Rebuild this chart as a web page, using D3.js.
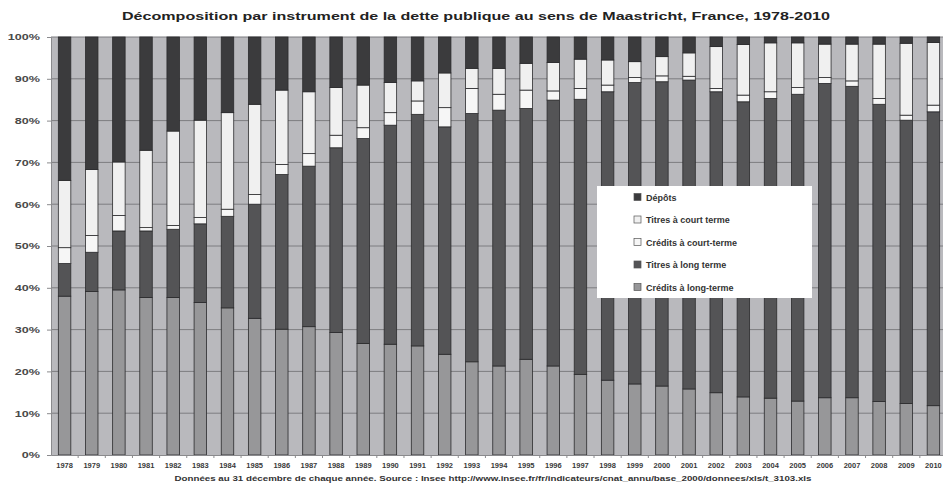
<!DOCTYPE html>
<html>
<head>
<meta charset="utf-8">
<script src="https://cdn.jsdelivr.net/npm/d3@7"></script>
<style>
  html, body { margin: 0; padding: 0; background: #fff; }
  svg { display: block; font-family: "Liberation Sans", Arial, sans-serif; }
</style>
</head>
<body>
<svg id="chart" width="943" height="489"></svg>
<script>
// Years (31 December of each year)
const years = ["1978","1979","1980","1981","1982","1983","1984","1985","1986","1987","1988",
  "1989","1990","1991","1992","1993","1994","1995","1996","1997","1998","1999","2000",
  "2001","2002","2003","2004","2005","2006","2007","2008","2009","2010"];

// Shares of total Maastricht debt, in percent
const creditsLongTerme = [38.0,39.1,39.5,37.7,37.7,36.5,35.2,32.7,30.1,30.7,29.3,26.7,26.5,26.1,24.1,22.3,21.3,22.9,21.3,19.3,17.9,17.0,16.5,15.8,14.9,13.9,13.6,12.9,13.7,13.7,12.8,12.3,11.8];
const titresLongTerme  = [7.8,9.4,14.1,15.9,16.3,18.8,21.9,27.3,37.0,38.4,44.2,49.0,52.4,55.4,54.4,59.4,61.2,60.0,63.6,65.8,69.0,72.1,72.8,73.9,72.0,70.6,71.7,73.4,75.2,74.5,71.1,67.8,70.3];
const creditsCourtTerme= [3.8,4.0,3.7,0.8,0.9,1.5,1.7,2.3,2.4,3.0,3.0,2.6,3.0,3.2,4.6,6.0,3.8,4.4,2.2,2.6,1.6,1.2,1.4,0.9,0.8,1.6,1.6,1.6,1.4,1.3,1.4,1.2,1.6];
const titresCourtTerme = [16.1,15.8,12.8,18.5,22.6,23.3,23.1,21.6,17.8,14.8,11.4,10.2,7.2,4.8,8.3,4.8,6.2,6.4,6.8,7.0,6.0,3.8,4.6,5.6,10.0,12.1,11.7,10.7,8.0,8.8,13.0,17.2,15.0];
const depots           = [34.3,31.7,29.9,27.1,22.5,19.9,18.1,16.1,12.7,13.1,12.1,11.5,10.9,10.5,8.6,7.5,7.5,6.3,6.1,5.3,5.5,5.9,4.7,3.8,2.3,1.8,1.4,1.4,1.7,1.7,1.7,1.5,1.3];

const seriesNames = ["Crédits à long-terme","Titres à long terme","Crédits à court-terme","Titres à court terme","Dépôts"];
const yTicks = [0,10,20,30,40,50,60,70,80,90,100];

const title = "Décomposition par instrument de la dette publique au sens de Maastricht, France, 1978-2010";
const source = "Données au 31 décembre de chaque année. Source : Insee http://www.insee.fr/fr/indicateurs/cnat_annu/base_2000/donnees/xls/t_3103.xls";

const colors = {
  "Crédits à long-terme": "#979799",
  "Titres à long terme": "#545456",
  "Crédits à court-terme": "#f6f6f6",
  "Titres à court terme": "#f0f0f0",
  "Dépôts": "#3b3b3d"
};

const rows = years.map((y, i) => ({
  year: y,
  "Crédits à long-terme": creditsLongTerme[i],
  "Titres à long terme": titresLongTerme[i],
  "Crédits à court-terme": creditsCourtTerme[i],
  "Titres à court terme": titresCourtTerme[i],
  "Dépôts": depots[i]
}));

const svg = d3.select("#chart");
const m = { left: 51, right: -4, top: 37, bottom: 34 };
const W = 943, H = 489;

const x = d3.scaleBand().domain(years).range([m.left, W - m.right]).paddingInner(0.54).paddingOuter(0.27);
const y = d3.scaleLinear().domain([0, 100]).range([H - m.bottom, m.top]);

// stretch a text element horizontally to a target width
function fitWidth(sel, factor) {
  sel.each(function () {
    const w = this.getComputedTextLength();
    d3.select(this).attr("textLength", w * factor).attr("lengthAdjust", "spacingAndGlyphs");
  });
}

// plot background
svg.append("rect")
  .attr("x", m.left).attr("y", m.top)
  .attr("width", W - m.right - m.left).attr("height", y(0) - m.top)
  .attr("fill", "#b9b9bd");

// horizontal gridlines
svg.append("g").selectAll("line").data(yTicks.filter(t => t > 0)).join("line")
  .attr("x1", m.left).attr("x2", W - m.right)
  .attr("y1", d => y(d)).attr("y2", d => y(d))
  .attr("stroke", "#7d7d80").attr("stroke-width", 1);

// stacked bars
const stack = d3.stack().keys(seriesNames);
const layers = stack(rows);

svg.append("g").selectAll("g").data(layers).join("g")
  .attr("fill", d => colors[d.key])
  .selectAll("rect").data(d => d).join("rect")
    .attr("x", d => x(d.data.year))
    .attr("width", x.bandwidth())
    .attr("y", d => y(d[1]))
    .attr("height", d => y(d[0]) - y(d[1]))
    .attr("stroke", "#2b2b2d").attr("stroke-width", 0.8);

// y axis
const yAxis = svg.append("g")
  .attr("transform", `translate(${m.left},0)`)
  .call(d3.axisLeft(y).tickValues(yTicks).tickFormat(d => d + "%").tickSize(4).tickPadding(7));
yAxis.select(".domain").attr("stroke", "#8a8a8d");
yAxis.selectAll(".tick line").attr("stroke", "#8a8a8d");
yAxis.selectAll("text")
  .attr("font-family", "Liberation Sans, Arial, sans-serif")
  .attr("font-size", 9).attr("font-weight", "bold").attr("fill", "#4a4a4a")
  .call(fitWidth, 1.4);

// x axis
const xAxis = svg.append("g")
  .attr("transform", `translate(0,${y(0)})`)
  .call(d3.axisBottom(x).tickSize(0).tickPadding(8));
xAxis.select(".domain").attr("stroke", "#8a8a8d");
xAxis.selectAll("text")
  .attr("font-family", "Liberation Sans, Arial, sans-serif")
  .attr("font-size", 7.5).attr("font-weight", "bold").attr("fill", "#3a3a3a")
  .call(fitWidth, 1.0);

// category boundary ticks
const step = x.step();
svg.append("g").selectAll("line").data(years).join("line")
  .attr("x1", d => x(d) + x.bandwidth() / 2 + step / 2)
  .attr("x2", d => x(d) + x.bandwidth() / 2 + step / 2)
  .attr("y1", y(0)).attr("y2", y(0) + 3)
  .attr("stroke", "#8a8a8d");

// title
svg.append("text")
  .attr("x", 476).attr("y", 20)
  .attr("text-anchor", "middle")
  .attr("font-size", 11).attr("font-weight", "bold").attr("fill", "#222")
  .text(title)
  .call(sel => sel.attr("textLength", 708).attr("lengthAdjust", "spacingAndGlyphs"));

// source note
svg.append("text")
  .attr("x", 493).attr("y", 481)
  .attr("text-anchor", "middle")
  .attr("font-size", 6.5).attr("font-weight", "bold").attr("fill", "#333")
  .text(source)
  .call(sel => sel.attr("textLength", 637).attr("lengthAdjust", "spacingAndGlyphs"));

// legend
const lg = svg.append("g");
lg.append("rect")
  .attr("x", 597).attr("y", 186).attr("width", 215).attr("height", 112)
  .attr("fill", "#fff");
const legendOrder = seriesNames.slice().reverse();
const item = lg.selectAll("g.item").data(legendOrder).join("g")
  .attr("class", "item")
  .attr("transform", (d, i) => `translate(634,${197 + i * 22.5})`);
item.append("rect")
  .attr("x", 0).attr("y", -3.5).attr("width", 7).attr("height", 7)
  .attr("fill", d => colors[d]).attr("stroke", "#555").attr("stroke-width", 0.7);
item.append("text")
  .attr("x", 12).attr("y", 3.5)
  .attr("font-size", 9).attr("font-weight", "bold").attr("fill", "#333")
  .text(d => d);
</script>
</body>
</html>
